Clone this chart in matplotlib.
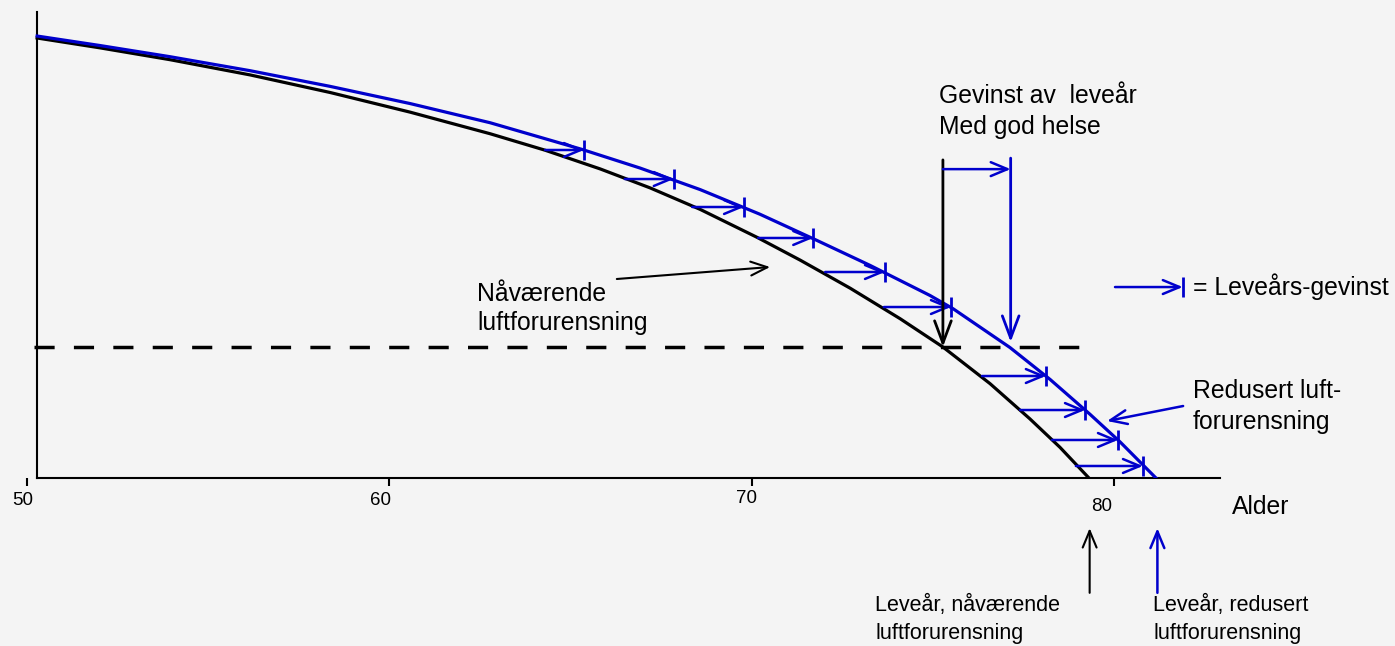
import matplotlib
matplotlib.use("Agg")
import matplotlib.pyplot as plt
from matplotlib.transforms import ScaledTranslation

plt.rcParams['font.family'] = ['Liberation Sans', 'DejaVu Sans']

# alder (x) og andel i live (y), lest av figuren
age_now = [50.28, 52.01, 53.95, 56.16, 58.37, 60.57, 62.78, 64.30, 65.82,
           67.20, 68.58, 70.15, 71.34, 72.72, 74.10, 75.28, 76.58, 77.68,
           78.51, 79.31]
surv_now = [100.0, 97.77, 95.07, 91.61, 87.61, 83.16, 78.25, 74.50, 70.25,
            65.93, 61.05, 54.70, 49.52, 43.14, 36.20, 29.77, 21.45, 13.45,
            6.98, 0]

age_red = [50.28, 52.01, 53.95, 56.16, 58.36, 60.57, 62.78, 65.32, 66.92,
           68.58, 70.23, 71.75, 73.27, 74.92, 75.56, 77.13, 78.24, 79.34,
           80.17, 81.16]
surv_red = [100.45, 98.30, 95.75, 92.57, 89.02, 85.11, 80.75, 74.68, 70.45,
            65.55, 59.95, 54.20, 48.32, 41.50, 38.48, 29.66, 22.39, 14.48,
            8.20, 0]

# leveårs-gevinst piler
gain_level = [74.55, 67.95, 61.59, 54.55, 46.82, 38.86, 23.18, 15.45, 8.64, 2.73]
gain_from = [64.30, 66.50, 68.36, 70.18, 72.03, 73.65, 76.36, 77.41, 78.29, 78.95]
gain_to = [65.37, 67.85, 69.79, 71.70, 73.68, 75.50, 78.12, 79.20, 80.11, 80.80]

half_level = 29.77          # stiplet linje
good_now, good_red = 75.28, 77.15
life_now, life_red = 79.33, 81.2

xticks = [50, 60, 70, 80]

bg = '#f4f4f4'
blue = '#0000cc'
fs = 17.8
fs_small = 15.5

fig = plt.figure(figsize=(13.95, 6.46), dpi=100, facecolor=bg)
ax = fig.add_axes([0, 168 / 646, 1, 478 / 646])
ax.set_facecolor(bg)
ax.set_xlim(49.255, 87.758)
ax.set_ylim(0, 108.64)
for s in ax.spines.values():
    s.set_visible(False)

# akser
ax.plot([50.28, 82.93], [0, 0], color='black', lw=1.5, clip_on=False)
ax.plot([50.28, 50.28], [0, 105.9], color='black', lw=1.5, clip_on=False)
ax.set_xticks(xticks)
ax.set_xticklabels([str(t) for t in xticks])
ax.tick_params(axis='x', direction='out', length=6, width=1.5, labelsize=13.5, pad=4)
ax.set_yticks([])
# tallene står litt skjevt i originalen
shifts = [(-4, 0), (-9, 0), (-5, 2), (-12, -6)]
for lbl, (dx, dy) in zip(ax.get_xticklabels(), shifts):
    lbl.set_transform(lbl.get_transform() +
                      ScaledTranslation(dx / 100, dy / 100, fig.dpi_scale_trans))

# kurver
ax.plot(age_now, surv_now, color='black', lw=2.3, solid_joinstyle='round')
ax.plot(age_red, surv_red, color=blue, lw=2.3, solid_joinstyle='round')

ax.plot([50.19, 79.04], [half_level, half_level], color='black', lw=2.5,
        dashes=(5.8, 5.55))

small = dict(arrowstyle='->,head_length=0.6,head_width=0.25', color=blue,
             lw=1.8, shrinkA=0, shrinkB=0, mutation_scale=20)
for lv, a, b in zip(gain_level, gain_from, gain_to):
    ax.annotate('', xy=(b, lv), xytext=(a, lv), arrowprops=small)
ax.plot(gain_to, gain_level, ls='none', marker='|', ms=15, mew=2, color=blue)

# gevinst med god helse
big = dict(arrowstyle='->,head_length=0.8,head_width=0.3', lw=2,
           shrinkA=0, shrinkB=0, mutation_scale=20)
ax.annotate('', xy=(good_now, half_level), xytext=(good_now, 72.3),
            arrowprops=dict(big, color='black'))
ax.annotate('', xy=(good_red, 30.9), xytext=(good_red, 72.7),
            arrowprops=dict(big, color=blue))
ax.annotate('', xy=(good_red, 70.2), xytext=(good_now, 70.2), arrowprops=small)
ax.text(75.17, 83.3, 'Gevinst av  leveår\nMed god helse', fontsize=fs,
        va='center', linespacing=1.35)

# forklaring
ax.annotate('', xy=(81.9, 43.4), xytext=(80.03, 43.4), arrowprops=small)
ax.plot([81.9], [43.4], marker='|', ms=15, mew=2, color=blue)
ax.text(82.18, 43.4, '= Leveårs-gevinst', fontsize=fs, va='center')

ax.text(62.42, 38.5, 'Nåværende\nluftforurensning', fontsize=fs, va='center',
        linespacing=1.26)
ax.annotate('', xy=(70.51, 47.95), xytext=(66.28, 45.23),
            arrowprops=dict(small, color='black', lw=1.5))

ax.text(82.18, 16.25, 'Redusert luft-\nforurensning', fontsize=fs, va='center',
        linespacing=1.35)
ax.annotate('', xy=(79.81, 12.95), xytext=(81.91, 16.36),
            arrowprops=dict(small, lw=1.8))

ax.text(83.26, -6.6, 'Alder', fontsize=fs, va='center', clip_on=False)

# levealder piler under aksen
ax.annotate('', xy=(life_now, -11.4), xytext=(life_now, -26.1),
            arrowprops=dict(small, color='black', lw=1.5), annotation_clip=False)
ax.annotate('', xy=(life_red, -11.4), xytext=(life_red, -26.1),
            arrowprops=dict(small, lw=1.8), annotation_clip=False)
ax.text(73.41, -32.2, 'Leveår, nåværende\nluftforurensning', fontsize=fs_small,
        va='center', linespacing=1.45, clip_on=False)
ax.text(81.08, -32.2, 'Leveår, redusert\nluftforurensning', fontsize=fs_small,
        va='center', linespacing=1.45, clip_on=False)

fig.savefig('out.png', dpi=100, facecolor=bg)
